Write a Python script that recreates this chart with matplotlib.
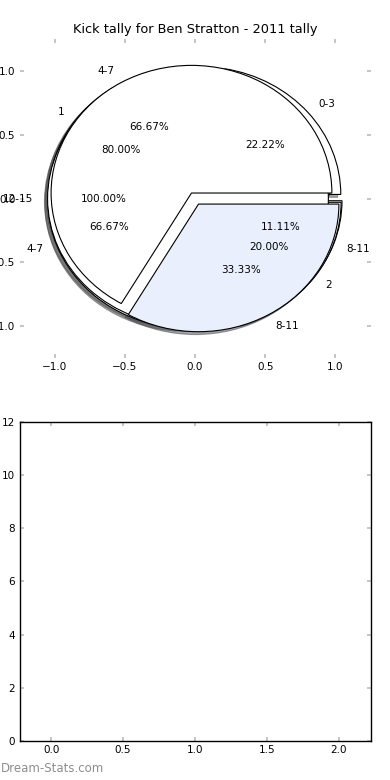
import matplotlib
matplotlib.use("Agg")
import matplotlib.pyplot as plt

# data: four pies drawn on top of each other
pie1_labels = ['0-3', '4-7', '8-11']
pie1_values = [2, 6, 1]
pie2_labels = ['1', '2']
pie2_values = [4, 1]
pie3_labels = ['12-15']
pie3_values = [1]
pie4_labels = ['4-7', '8-11']
pie4_values = [2, 1]

title = 'Kick tally for Ben Stratton - 2011 tally'
pie_ticks = [-1.0, -0.5, 0.0, 0.5, 1.0]
bar_xticks = [0.0, 0.5, 1.0, 1.5, 2.0]
bar_yticks = [0, 2, 4, 6, 8, 10, 12]

plt.rcParams['font.family'] = ['DejaVu Sans']
plt.rcParams['font.size'] = 7.5

fig, (ax1, ax2) = plt.subplots(2, 1, figsize=(3.9, 7.8), dpi=100)
fig.subplots_adjust(left=0.05, right=0.95, top=0.95, bottom=0.05, hspace=0.2)

tick_col = '#bbbbbb'
shad = {'ox': -0.016, 'oy': -0.016}

pies = [
    (pie1_values, pie1_labels, ['white', 'white', 'white']),
    (pie2_values, pie2_labels, ['white', 'white']),
    (pie3_values, pie3_labels, ['white']),
    (pie4_values, pie4_labels, ['white', '#e9effc']),
]
for vals, labs, cols in pies:
    ax1.pie(vals, labels=labs, colors=cols, explode=[0.05] * len(vals),
            autopct='%1.2f%%', shadow=shad,
            wedgeprops={'edgecolor': 'black', 'linewidth': 0.8},
            textprops={'fontsize': 7.5})

ax1.set_aspect('auto')
ax1.set_frame_on(False)
ax1.set_xlim(-1.25, 1.25)
ax1.set_ylim(-1.25, 1.25)
ax1.set_xticks(pie_ticks)
ax1.set_yticks(pie_ticks)
ax1.set_title(title, fontsize=9.3, pad=4)

ax2.set_xlim(-0.22, 2.22)
ax2.set_ylim(0, 12)
ax2.set_xticks(bar_xticks)
ax2.set_yticks(bar_yticks)
for sp in ax2.spines.values():
    sp.set_linewidth(1.0)

for ax in (ax1, ax2):
    ax.tick_params(direction='in', length=3, width=1.2, color=tick_col,
                   top=True, right=True, labelsize=7.5, pad=3)

fig.text(0.002, 0.006, 'Dream-Stats.com', color='#8e8e8e', fontsize=8.5,
         ha='left', va='bottom')

fig.savefig('out.png', dpi=100)
